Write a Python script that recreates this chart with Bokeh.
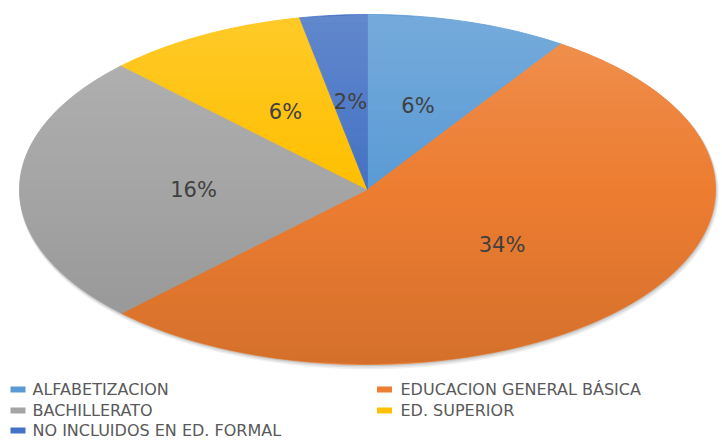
import numpy as np
from bokeh.plotting import figure
from bokeh.models import Range1d, ColumnDataSource
from bokeh.embed import file_html
from bokeh.resources import INLINE
from bokeh.core.properties import value

# ---- data ----
categories = ["ALFABETIZACION", "EDUCACION GENERAL BÁSICA", "BACHILLERATO",
              "ED. SUPERIOR", "NO INCLUIDOS EN ED. FORMAL"]
values = [6, 34, 16, 6, 2]
labels = ["6%", "34%", "16%", "6%", "2%"]
colors = ["#5B9BD5", "#ED7D31", "#A5A5A5", "#FFC000", "#4472C4"]

# ---- layout ----
W, H = 720, 439
CX, CY, RX, RY = 367, 189, 348, 175

p = figure(width=W, height=H, x_range=Range1d(0, W), y_range=Range1d(H, 0),
           output_backend="svg", toolbar_location=None, min_border=0)
p.axis.visible = False
p.grid.visible = False
p.outline_line_color = None
p.background_fill_color = "white"
p.border_fill_color = "white"

def pt(theta, r=1.0):
    # theta: clockwise from 12 o'clock
    return CX + RX * r * np.sin(theta), CY - RY * r * np.cos(theta)

# shadow
ts = np.linspace(0, 2 * np.pi, 240)
for off, a in [(3, 0.06), (2, 0.08), (1, 0.10)]:
    sx = CX + (RX + off * 0.6) * np.sin(ts) + off * 0.5
    sy = CY - (RY + off * 0.6) * np.cos(ts) + off
    p.patch(sx, sy, fill_color="black", fill_alpha=a, line_color=None)

# slices
total = float(sum(values))
cum = np.concatenate([[0], np.cumsum(values)]) / total * 2 * np.pi
xs, ys, lx, ly = [], [], [], []
for i in range(len(values)):
    a0, a1 = cum[i], cum[i + 1]
    n = max(6, int(np.degrees(a1 - a0)))
    th = np.linspace(a0, a1, n)
    px, py = pt(th)
    xs.append(np.concatenate([[CX], px]).tolist())
    ys.append(np.concatenate([[CY], py]).tolist())
    mx, my = pt((a0 + a1) / 2, 0.5)
    lx.append(mx)
    ly.append(my)

src = ColumnDataSource(dict(xs=xs, ys=ys, color=colors))
p.patches("xs", "ys", source=src, fill_color="color", line_color="color", line_width=0.8)

# vertical shading overlay (light top, dark bottom)
N = 40
bx, by, bc, ba = [], [], [], []
edges = np.linspace(CY - RY, CY + RY, N + 1)
for k in range(N):
    y0, y1 = edges[k], edges[k + 1]
    yy = np.linspace(y0, y1, 4)
    half = RX * np.sqrt(np.clip(1 - ((yy - CY) / RY) ** 2, 0, 1))
    bx.append(np.concatenate([CX - half, (CX + half)[::-1]]).tolist())
    by.append(np.concatenate([yy, yy[::-1]]).tolist())
    t = ((y0 + y1) / 2 - CY) / RY
    if t < 0:
        bc.append("white"); ba.append(-t * 0.16)
    else:
        bc.append("black"); ba.append(t * 0.10)
p.patches(bx, by, fill_color=bc, fill_alpha=ba, line_color=None)

# percentage labels
p.text(lx, ly, text=labels, text_align="center", text_baseline="middle",
       text_font=value("DejaVu Sans"), text_font_size="21px", text_color="#404040")

# legend
col_sq = [17.5, 384]
col_tx = [32, 400]
row_y = [389, 410, 430]
sqx, sqy, tx, ty = [], [], [], []
for i, c in enumerate(categories):
    r, col = [(0, 0), (0, 1), (1, 0), (1, 1), (2, 0)][i]
    sqx.append(col_sq[col]); sqy.append(row_y[r])
    tx.append(col_tx[col]); ty.append(row_y[r])
p.rect(sqx, sqy, width=15, height=6, fill_color=colors, line_color=None)
p.text(tx, ty, text=categories, text_align="left", text_baseline="middle",
       text_font=value("DejaVu Sans"), text_font_size="16px", text_color="#595959")

open("out.html", "w").write(file_html(p, INLINE))
